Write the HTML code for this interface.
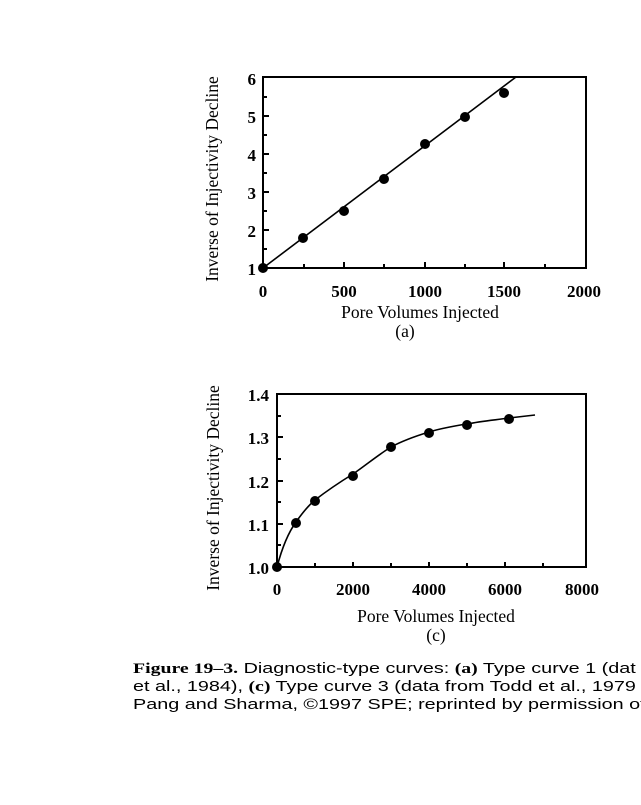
<!DOCTYPE html><html><head><style>body{margin:0;background:#fff;width:641px;height:800px;overflow:hidden}svg text{font-family:"Liberation Serif",serif}</style></head><body>
<svg width="641" height="800" viewBox="0 0 641 800" xmlns="http://www.w3.org/2000/svg">
<g stroke="#000" fill="none" stroke-width="2">
<rect x="263" y="77" width="323" height="191"/>
<line x1="263" y1="268" x2="516" y2="77" stroke-width="1.6"/>
<path d="M344 268v-6M425 268v-6M504 268v-6M304 268v-4M384 268v-4M465 268v-4M545 268v-4M263 230h6M263 192h6M263 154h6M263 116h6M263 249h4M263 211h4M263 173h4M263 135h4M263 97h4"/>
<rect x="277" y="394" width="309" height="173"/>
<path d="M277 567 C 282 548,288 533,296 522 C 303 512,309 505,315 500 C 328 490,340 482,353 474 C 366 465,378 455,391 447 C 404 440,416 436,429 432 C 442 428,454 426,467 424 C 482 421,495 420,509 418 C 518 417,526 416,535 415" stroke-width="1.6"/>
<path d="M353 567v-5M429 567v-5M505 567v-5M315 567v-4M391 567v-4M467 567v-4M543 567v-4M277 524h6M277 481h6M277 437h6M277 545h4M277 502h4M277 459h4M277 416h4"/>
</g>
<g fill="#000">
<circle cx="263" cy="268" r="5"/><circle cx="303" cy="238" r="5"/><circle cx="344" cy="211" r="5"/><circle cx="384" cy="179" r="5"/><circle cx="425" cy="144" r="5"/><circle cx="465" cy="117" r="5"/><circle cx="504" cy="93" r="5"/>
<circle cx="277" cy="567" r="5"/><circle cx="296" cy="523" r="5"/><circle cx="315" cy="501" r="5"/><circle cx="353" cy="476" r="5"/><circle cx="391" cy="447" r="5"/><circle cx="429" cy="433" r="5"/><circle cx="467" cy="425" r="5"/><circle cx="509" cy="419" r="5"/>
</g>
<g font-size="17" font-weight="bold" text-anchor="end">
<text x="256" y="85">6</text><text x="256" y="123">5</text><text x="256" y="161">4</text><text x="256" y="199">3</text><text x="256" y="237">2</text><text x="256" y="275">1</text>
<text x="269" y="401">1.4</text><text x="269" y="444">1.3</text><text x="269" y="488">1.2</text><text x="269" y="531">1.1</text><text x="269" y="574">1.0</text>
</g>
<g font-size="17" font-weight="bold" text-anchor="middle">
<text x="263" y="297">0</text><text x="344" y="297">500</text><text x="425" y="297">1000</text><text x="504" y="297">1500</text><text x="584" y="297">2000</text>
<text x="277" y="595">0</text><text x="353" y="595">2000</text><text x="429" y="595">4000</text><text x="505" y="595">6000</text><text x="582" y="595">8000</text>
</g>
<g font-size="17.5" text-anchor="middle">
<text x="420" y="318">Pore Volumes Injected</text><text x="405" y="337">(a)</text>
<text x="436" y="622">Pore Volumes Injected</text><text x="436" y="641">(c)</text>
<text transform="translate(218,179) rotate(-90)">Inverse of Injectivity Decline</text>
<text transform="translate(219,488) rotate(-90)">Inverse of Injectivity Decline</text>
</g>
<g font-size="15" transform="translate(133,0) scale(1.32,1)">
<text x="0" y="673" style="font-family:'Liberation Sans',sans-serif"><tspan font-weight="bold" style="font-family:'Liberation Serif',serif">Figure 19–3.</tspan> Diagnostic-type curves: <tspan font-weight="bold" style="font-family:'Liberation Serif',serif">(a)</tspan> Type curve 1 (dat</text>
<text x="0" y="691" style="font-family:'Liberation Sans',sans-serif">et al., 1984), <tspan font-weight="bold" style="font-family:'Liberation Serif',serif">(c)</tspan> Type curve 3 (data from Todd et al., 1979</text>
<text x="0" y="709" style="font-family:'Liberation Sans',sans-serif">Pang and Sharma, ©1997 SPE; reprinted by permission of</text>
</g>
</svg></body></html>
